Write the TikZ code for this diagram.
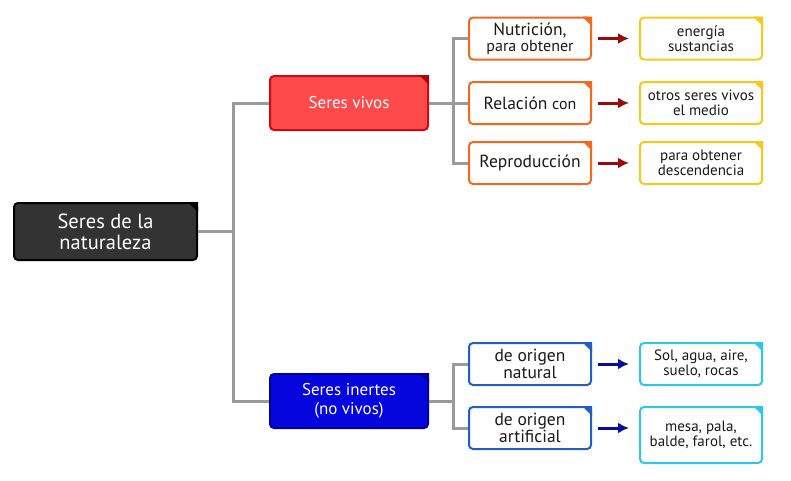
\documentclass[tikz,border=0pt]{standalone}
\usepackage{fontspec}
\setmainfont{PT Sans}
\usepackage{tikz}
\usetikzlibrary{arrows.meta,positioning}

\definecolor{rootgray}{HTML}{333333}
\definecolor{vivored}{HTML}{FF4A4C}
\definecolor{vivoedge}{HTML}{CC0A14}
\definecolor{inertblue}{HTML}{0505DE}
\definecolor{inertedge}{HTML}{00009A}
\definecolor{orangeedge}{HTML}{F2691E}
\definecolor{yellowedge}{HTML}{F8C81A}
\definecolor{blueedge}{HTML}{1E60C6}
\definecolor{cyanedge}{HTML}{2EC6EC}
\definecolor{branchgray}{HTML}{9A9A9A}
\definecolor{arrred}{HTML}{9A0A0A}
\definecolor{arrblue}{HTML}{0A0A9A}

\tikzset{
  box/.style={draw, rounded corners=4pt, line width=2pt, align=center,
    inner sep=0pt, font=\fontsize{16}{16}\selectfont, text=black!90, fill=white},
  main/.style={box, minimum width=158pt, minimum height=54pt, text=white,
    font=\fontsize{17}{19}\selectfont},
  leaf/.style={box, minimum width=122pt, minimum height=42pt},
  result/.style={box, minimum width=122pt, minimum height=42pt,
    font=\fontsize{15}{15}\selectfont},
  branch/.style={draw=branchgray, line width=3pt},
  arr/.style={line width=3pt, -{Latex[length=11pt,width=11pt]},
    shorten <=6pt, shorten >=10pt},
}

\begin{document}
\begin{tikzpicture}[x=1pt, y=-1pt]
  \useasboundingbox (0,0) rectangle (791,480);

  % first level
  \node[box, fill=rootgray, draw=black, text=white, minimum width=183pt,
    minimum height=57pt, font=\fontsize{20.5}{21}\selectfont] (root) at (105.5,231.5)
    {Seres de la\\naturaleza};
  \node[main, fill=vivored, draw=vivoedge] (vivos) at (349,103) {Seres vivos};
  \node[main, fill=inertblue, draw=inertedge] (inertes) at (349,401)
    {Seres inertes\\(no vivos)};

  % seres vivos
  \node[leaf, draw=orangeedge] (nutri) at (530,38.5)
    {\fontsize{17.5}{17}\selectfont Nutrición,\\para obtener};
  \node[leaf, draw=orangeedge] (relac) at (530,103)
    {\fontsize{17.5}{17}\selectfont Relación \fontsize{16}{17}\selectfont con};
  \node[leaf, draw=orangeedge] (repro) at (530,163)
    {\fontsize{17.5}{17}\selectfont Reproducción};
  \node[result, draw=yellowedge, right=47pt of nutri] (energia)
    {energía\\sustancias};
  \node[result, draw=yellowedge, right=47pt of relac] (otros)
    {otros seres vivos\\el medio};
  \node[result, draw=yellowedge, right=47pt of repro] (descend)
    {para obtener\\descendencia};

  % seres inertes
  \node[leaf, draw=blueedge, font=\fontsize{17.5}{17}\selectfont] (natural)
    at (530,364) {de origen\\natural};
  \node[leaf, draw=blueedge, font=\fontsize{17.5}{17}\selectfont] (artif)
    at (530,428) {de origen\\artificial};
  \node[result, draw=cyanedge, right=47pt of natural] (sol)
    {Sol, agua, aire,\\suelo, rocas};
  \node[result, draw=cyanedge, minimum height=56pt, anchor=north west]
    (mesa) at (artif.north east -| sol.west) {mesa, pala,\\balde, farol, etc.};

  % folded corners
  \foreach \n/\c in {root/black, vivos/vivoedge!80!black, inertes/inertedge,
      nutri/orangeedge, relac/orangeedge, repro/orangeedge,
      energia/yellowedge, otros/yellowedge, descend/yellowedge,
      natural/blueedge, artif/blueedge, sol/cyanedge, mesa/cyanedge}
    \fill[\c] (\n.north east) -- ++(-10,0) -- ++(10,10) -- cycle;

  % tree lines
  \coordinate (j1) at (233,231.5);
  \coordinate (j2) at (453,103);
  \coordinate (j3) at (453,401);
  \draw[branch] (root.east) -- (j1);
  \draw[branch] (vivos.west) -| (j1) |- (inertes.west);
  \draw[branch] (vivos.east) -- (j2) -- (relac.west);
  \draw[branch] (nutri.west) -| (j2) |- (repro.west);
  \draw[branch] (inertes.east) -- (j3);
  \draw[branch] (natural.west) -| (j3) |- (artif.west);

  % arrows
  \draw[arr, arrred] (nutri) -- (energia);
  \draw[arr, arrred] (relac) -- (otros);
  \draw[arr, arrred] (repro) -- (descend);
  \draw[arr, arrblue] (natural) -- (sol);
  \draw[arr, arrblue] (artif.east) -- (artif.east -| mesa.west);
\end{tikzpicture}
\end{document}
